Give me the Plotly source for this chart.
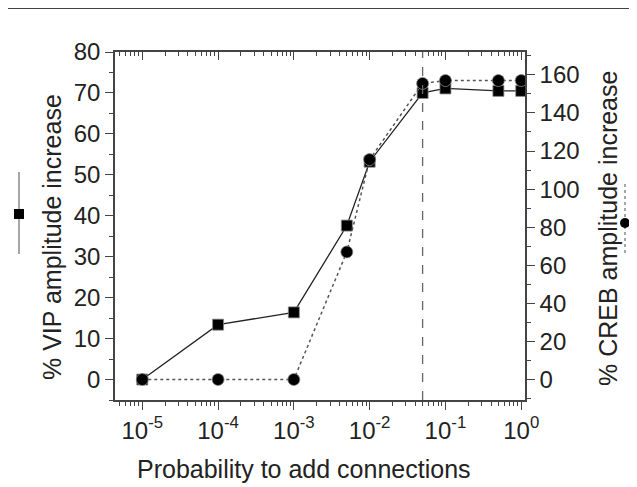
import plotly.graph_objects as go

# Data
prob = [1e-5, 1e-4, 1e-3, 5e-3, 1e-2, 5e-2, 1e-1, 5e-1, 1.0]
vip = [0, 13.4, 16.4, 37.6, 53.2, 70.0, 71.1, 70.5, 70.5]
creb = [0, 0, 0, 67, 115.5, 155.5, 157, 157, 157]
threshold = 0.05

xtick_vals = [1e-5, 1e-4, 1e-3, 1e-2, 1e-1, 1e0]
xtick_text = ["10<sup>-5</sup>", "10<sup>-4</sup>", "10<sup>-3</sup>",
              "10<sup>-2</sup>", "10<sup>-1</sup>", "10<sup>0</sup>"]
minor_vals = [m * 10 ** e for e in range(-6, 1) for m in range(2, 10)]

# page offset of the plotly div (body margin)
OFF = 8
W, H = 637 - OFF, 487 - OFF
# plot area in page pixels
PL, PR, PT, PB = 115, 525, 52, 400
L, T = PL - OFF, PT - OFF
pw, ph = PR - PL, PB - PT
R, B = W - L - pw, H - T - ph

def px(x):
    return (x - PL) / pw

def py(y):
    return 1 - (y - PT) / ph

FONT = "Liberation Sans, Arial, sans-serif"
AX = "#444444"
TXT = "#222222"

fig = go.Figure()
fig.add_trace(go.Scatter(
    x=prob, y=vip, mode="lines+markers",
    line=dict(color="#222222", width=1.3),
    marker=dict(symbol="square", size=11, color="black",
                line=dict(color="#888888", width=0.8)),
    showlegend=False, hoverinfo="skip"))
fig.add_trace(go.Scatter(
    x=prob, y=creb, mode="lines+markers", yaxis="y2",
    line=dict(color="#555555", width=1.5, dash="dot"),
    marker=dict(symbol="circle", size=12, color="black",
                line=dict(color="#888888", width=0.8)),
    showlegend=False, hoverinfo="skip"))
# dummy trace to activate top axis
fig.add_trace(go.Scatter(x=[1e-5], y=[0], xaxis="x2", mode="markers",
                         marker=dict(opacity=0), showlegend=False,
                         hoverinfo="skip"))

fig.add_shape(type="line", xref="x", yref="paper", x0=threshold, x1=threshold,
              y0=0, y1=1, line=dict(color="#666666", width=1.3, dash="dash"))

# page top rule
fig.add_shape(type="line", xref="paper", yref="paper",
              x0=px(8), x1=px(640), y0=py(8), y1=py(8),
              line=dict(color="black", width=1.5))

# legend glyph left (solid + square)
fig.add_shape(type="line", xref="paper", yref="paper",
              x0=px(19), x1=px(19), y0=py(172), y1=py(254),
              line=dict(color="#777777", width=1.3))
fig.add_shape(type="rect", xref="paper", yref="paper",
              x0=px(14), x1=px(24), y0=py(209), y1=py(219),
              fillcolor="black", line=dict(color="black", width=0))
# legend glyph right (dotted + circle)
fig.add_shape(type="line", xref="paper", yref="paper",
              x0=px(625), x1=px(625), y0=py(184), y1=py(254),
              line=dict(color="#777777", width=1.3, dash="dot"))
fig.add_shape(type="circle", xref="paper", yref="paper",
              x0=px(620), x1=px(630), y0=py(218), y1=py(228),
              fillcolor="black", line=dict(color="black", width=0))

# axis titles
fig.add_annotation(text="Probability to add connections", xref="paper",
                   yref="paper", x=px(304), y=py(469), showarrow=False,
                   font=dict(size=25, color=TXT), xanchor="center",
                   yanchor="middle")
fig.add_annotation(text="% VIP amplitude increase", xref="paper",
                   yref="paper", x=px(52), y=py(237), showarrow=False,
                   textangle=-90, font=dict(size=25, color=TXT),
                   xanchor="center", yanchor="middle")
fig.add_annotation(text="% CREB amplitude increase", xref="paper",
                   yref="paper", x=px(608), y=py(229), showarrow=False,
                   textangle=-90, font=dict(size=25, color=TXT),
                   xanchor="center", yanchor="middle")

common = dict(ticklen=8, tickcolor=AX, tickwidth=1.2, showline=True,
              linecolor=AX, linewidth=1.5, showgrid=False, zeroline=False)

fig.update_layout(
    width=W, height=H,
    margin=dict(l=L, r=R, t=T, b=B),
    paper_bgcolor="white", plot_bgcolor="white",
    font=dict(family=FONT, size=24, color=TXT),
    xaxis=dict(type="log", range=[-5.36, 0.05],
               tickvals=xtick_vals, ticktext=xtick_text, ticks="outside",
               minor=dict(tickvals=minor_vals, ticks="outside", ticklen=4,
                          tickcolor=AX, showgrid=False),
               tickfont=dict(size=24), **common),
    xaxis2=dict(type="log", range=[-5.36, 0.05], overlaying="x", side="top",
                tickvals=xtick_vals, showticklabels=False, ticks="inside",
                minor=dict(tickvals=minor_vals, ticks="inside", ticklen=4,
                           tickcolor=AX, showgrid=False), **common),
    yaxis=dict(range=[-5, 80], tickvals=[0, 10, 20, 30, 40, 50, 60, 70, 80],
               ticks="outside",
               minor=dict(dtick=5, ticks="outside", ticklen=4,
                          tickcolor=AX, showgrid=False),
               tickfont=dict(size=24), **common),
    yaxis2=dict(range=[-10.75, 172], overlaying="y", side="right",
                tickvals=[0, 20, 40, 60, 80, 100, 120, 140, 160],
                ticks="outside",
                minor=dict(dtick=10, ticks="outside", ticklen=4,
                           tickcolor=AX, showgrid=False),
                tickfont=dict(size=24), **common),
)

fig.write_html("out.html")
